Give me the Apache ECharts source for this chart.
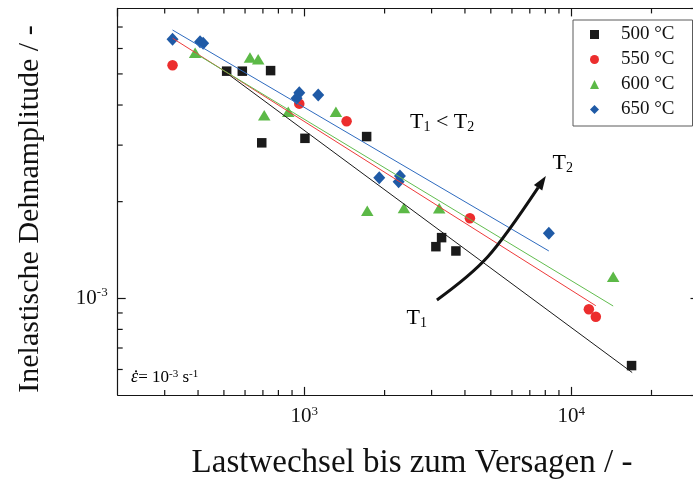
<!DOCTYPE html>
<html>
<head>
<meta charset="utf-8">
<script src="https://cdn.jsdelivr.net/npm/echarts@6/dist/echarts.min.js"></script>
<style>
html, body { margin: 0; padding: 0; background: #fff; }
#chart { width: 693px; height: 480px; }
</style>
</head>
<body>
<div id="chart"></div>
<script>
const FONT = '"Liberation Serif", "Times New Roman", Times, serif';

// Temperatures (legend entries)
const seriesNames = ['500 °C', '550 °C', '600 °C', '650 °C'];

// Cycles to failure N and inelastic strain amplitude for each temperature
const cycles500 = [512, 586, 748, 693, 1006, 1713, 3270, 3113, 3700, 16840];
const strain500 = [5.10e-3, 5.10e-3, 5.12e-3, 3.05e-3, 3.15e-3, 3.19e-3, 1.545e-3, 1.448e-3, 1.404e-3, 6.17e-4];

const cycles550 = [321, 958, 1441, 4175, 11650, 12370];
const strain550 = [5.32e-3, 4.04e-3, 3.56e-3, 1.775e-3, 9.24e-4, 8.76e-4];

const cycles600 = [390, 626, 672, 708, 871, 1314, 1722, 2363, 3203, 14370];
const strain600 = [5.82e-3, 5.63e-3, 5.55e-3, 3.72e-3, 3.81e-3, 3.81e-3, 1.875e-3, 1.911e-3, 1.907e-3, 1.168e-3];

const cycles650 = [321, 407, 418, 958, 936, 1128, 1910, 2283, 2257, 8250];
const strain650 = [6.41e-3, 6.30e-3, 6.23e-3, 4.37e-3, 4.20e-3, 4.30e-3, 2.375e-3, 2.404e-3, 2.307e-3, 1.594e-3];

// Power-law fit lines (start and end point, in N / strain)
const fit500 = [[512, 5.03e-3], [16930, 5.87e-4]];
const fit550 = [[321, 6.46e-3], [12370, 9.48e-4]];
const fit600 = [[390, 5.80e-3], [14370, 9.46e-4]];
const fit650 = [[321, 6.85e-3], [8250, 1.404e-3]];

// Axis ranges and minor ticks
const X_MIN = 200, X_MAX = 30000;
const Y_MIN = 5e-4, Y_MAX = 8e-3;
const minorTicksX = [300, 400, 500, 600, 700, 800, 900, 2000, 3000, 4000, 5000, 6000, 7000, 8000, 9000, 20000];
const minorTicksY = [6e-4, 7e-4, 8e-4, 9e-4, 2e-3, 3e-3, 4e-3, 5e-3, 6e-3, 7e-3];

const colors = ['#1a1a1a', '#ec2d2d', '#5cb947', '#1f5aa6'];
const lineColors = ['#1a1a1a', '#ee3a3a', '#62bd4f', '#2e6bbf'];
const symbols = ['rect', 'circle', 'triangle', 'diamond'];
const symbolSizes = [9.5, 10.5, [12.5, 10.5], [12, 13]];

const AXIS_COLOR = '#151515';
const AXIS_W = 1.2;

const zip = (xs, ys) => xs.map((x, i) => [x, ys[i]]);
const dataSets = [zip(cycles500, strain500), zip(cycles550, strain550), zip(cycles600, strain600), zip(cycles650, strain650)];
const fits = [fit500, fit550, fit600, fit650];

const powerRich = {
  b: { fontFamily: FONT, fontSize: 21, lineHeight: 24, color: '#111' },
  s: { fontFamily: FONT, fontSize: 13, lineHeight: 8, color: '#111', verticalAlign: 'top' }
};
function powerLabel(v) {
  const lg = Math.log10(v);
  const e = Math.round(lg);
  if (Math.abs(lg - e) > 1e-6) return '';
  return '{b|10}{s|' + e + '}';
}

function axisCommon(extra) {
  return Object.assign({
    type: 'log',
    logBase: 10,
    axisLine: { show: true, onZero: false, lineStyle: { color: AXIS_COLOR, width: AXIS_W } },
    axisTick: { show: true, inside: true, length: 8, lineStyle: { color: AXIS_COLOR, width: AXIS_W } },
    splitLine: { show: false },
    minorTick: { show: false },
    minorSplitLine: { show: false }
  }, extra);
}

const chart = echarts.init(document.getElementById('chart'), null, { renderer: 'canvas' });

const scatterSeries = seriesNames.map((name, i) => ({
  name: name,
  type: 'scatter',
  xAxisIndex: 0,
  yAxisIndex: 0,
  symbol: symbols[i],
  symbolSize: symbolSizes[i],
  itemStyle: { color: colors[i], opacity: 1 },
  data: dataSets[i],
  z: 3
}));

const fitSeries = seriesNames.map((name, i) => ({
  name: 'Fit ' + name,
  type: 'line',
  xAxisIndex: 0,
  yAxisIndex: 0,
  data: fits[i],
  symbol: 'none',
  lineStyle: { color: lineColors[i], width: 1 },
  silent: true,
  z: 4
}));

const tickStyle = { stroke: AXIS_COLOR, lineWidth: AXIS_W };

// Minor ticks on the bottom/top frame edges
const minorX = {
  type: 'custom',
  silent: true,
  xAxisIndex: 0,
  yAxisIndex: 0,
  data: minorTicksX.map(v => [v, Y_MIN]),
  renderItem: function (params, api) {
    const v = api.value(0);
    const b = api.coord([v, Y_MIN]);
    const t = api.coord([v, Y_MAX]);
    return {
      type: 'group',
      children: [
        { type: 'line', shape: { x1: b[0], y1: b[1], x2: b[0], y2: b[1] - 5 }, style: tickStyle },
        { type: 'line', shape: { x1: t[0], y1: t[1], x2: t[0], y2: t[1] + 5 }, style: tickStyle }
      ]
    };
  },
  z: 5
};

// Minor ticks on the left/right frame edges
const minorY = {
  type: 'custom',
  silent: true,
  xAxisIndex: 0,
  yAxisIndex: 0,
  data: minorTicksY.map(v => [X_MIN, v]),
  renderItem: function (params, api) {
    const v = api.value(1);
    const l = api.coord([X_MIN, v]);
    const r = api.coord([X_MAX, v]);
    return {
      type: 'group',
      children: [
        { type: 'line', shape: { x1: l[0], y1: l[1], x2: l[0] + 5, y2: l[1] }, style: tickStyle },
        { type: 'line', shape: { x1: r[0], y1: r[1], x2: r[0] - 5, y2: r[1] }, style: tickStyle }
      ]
    };
  },
  z: 5
};

chart.setOption({
  animation: false,
  backgroundColor: '#ffffff',
  grid: { left: 117.7, right: -5.5, top: 8.4, bottom: 85.1, containLabel: false, outerBoundsMode: 'none' },
  xAxis: [
    axisCommon({
      position: 'bottom', min: X_MIN, max: X_MAX,
      axisLabel: { show: true, margin: 10, formatter: powerLabel, rich: powerRich, showMinLabel: false, showMaxLabel: false }
    }),
    axisCommon({ position: 'top', min: X_MIN, max: X_MAX, axisLabel: { show: false } })
  ],
  yAxis: [
    axisCommon({
      position: 'left', min: Y_MIN, max: Y_MAX,
      axisLabel: { show: true, margin: 10, formatter: powerLabel, rich: powerRich, showMinLabel: false, showMaxLabel: false }
    }),
    axisCommon({ position: 'right', min: Y_MIN, max: Y_MAX, axisLabel: { show: false } })
  ],
  legend: {
    orient: 'vertical',
    left: 573,
    top: 20,
    padding: [5, 18, 7, 17],
    itemWidth: 9,
    itemHeight: 9,
    itemGap: 6,
    borderColor: '#5a5a5a',
    borderWidth: 1,
    selectedMode: false,
    textStyle: { fontFamily: FONT, fontSize: 19, color: '#111', lineHeight: 18, padding: [0, 0, 0, 17] },
    data: seriesNames
  },
  series: scatterSeries.concat(fitSeries, [minorX, minorY])
});

// Annotation anchors, in (N, strain) data space
const arrowPath = { start: [3141, 9.88e-4], bend: [4876, 1.288e-3], tip: [8039, 2.404e-3] };
const labelT1T2 = [2489, 3.54e-3];
const labelT2 = [8517, 2.634e-3];
const labelT1 = [2418, 8.64e-4];
const labelRate = [224.4, 5.67e-4];

const px = p => chart.convertToPixel({ xAxisIndex: 0, yAxisIndex: 0 }, p);

const annRich = {
  m: { fontFamily: FONT, fontSize: 22, lineHeight: 24, color: '#111' },
  sub: { fontFamily: FONT, fontSize: 14, lineHeight: 3, color: '#111', verticalAlign: 'bottom' }
};
const rateRich = {
  m: { fontFamily: FONT, fontSize: 17, lineHeight: 18, color: '#111' },
  e: { fontFamily: FONT, fontSize: 18, lineHeight: 18, color: '#111', fontStyle: 'italic' },
  sup: { fontFamily: FONT, fontSize: 11, lineHeight: 6, color: '#111', verticalAlign: 'top' }
};

const p0 = px(arrowPath.start), pb = px(arrowPath.bend), pt = px(arrowPath.tip);
// arrow head oriented along the final segment
const dx = pt[0] - pb[0], dy = pt[1] - pb[1];
const len = Math.sqrt(dx * dx + dy * dy);
const ux = dx / len, uy = dy / len;
const headL = 14, headW = 5;
const base = [pt[0] - ux * headL, pt[1] - uy * headL];
const c1 = [p0[0] + (pb[0] - p0[0]) * 0.9, p0[1] + (pb[1] - p0[1]) * 0.9];
const c2 = [pb[0] + (base[0] - pb[0]) * 0.1, pb[1] + (base[1] - pb[1]) * 0.1];

const tT12 = px(labelT1T2), tT2 = px(labelT2), tT1 = px(labelT1), tRate = px(labelRate);

chart.setOption({
  graphic: [
    {
      type: 'bezierCurve', silent: true, z: 10,
      shape: { x1: p0[0], y1: p0[1], cpx1: c1[0], cpy1: c1[1], cpx2: c2[0], cpy2: c2[1], x2: base[0], y2: base[1] },
      style: { stroke: '#111', lineWidth: 3, fill: null }
    },
    {
      type: 'polygon', silent: true, z: 10,
      shape: { points: [
        [pt[0], pt[1]],
        [base[0] - uy * headW, base[1] + ux * headW],
        [base[0] + uy * headW, base[1] - ux * headW]
      ] },
      style: { fill: '#111' }
    },
    {
      type: 'text', silent: true, z: 10, x: tT12[0], y: tT12[1],
      style: { text: '{m|T}{sub|1}{m| < T}{sub|2}', rich: annRich, align: 'left', verticalAlign: 'middle' }
    },
    {
      type: 'text', silent: true, z: 10, x: tT2[0], y: tT2[1],
      style: { text: '{m|T}{sub|2}', rich: annRich, align: 'left', verticalAlign: 'middle' }
    },
    {
      type: 'text', silent: true, z: 10, x: tT1[0], y: tT1[1],
      style: { text: '{m|T}{sub|1}', rich: annRich, align: 'left', verticalAlign: 'middle' }
    },
    {
      // strain rate note: italic epsilon with an overdot
      type: 'text', silent: true, z: 10, x: tRate[0], y: tRate[1],
      style: { text: '{e|\u03b5}{m|= 10}{sup|-3}{m| s}{sup|-1}', rich: rateRich, align: 'left', verticalAlign: 'middle' }
    },
    {
      type: 'circle', silent: true, z: 10,
      shape: { cx: tRate[0] + 5, cy: tRate[1] - 6, r: 1.1 },
      style: { fill: '#111' }
    },
    {
      type: 'text', silent: true, z: 10, x: 412, y: 463,
      style: { text: 'Lastwechsel bis zum Versagen / -', fontFamily: FONT, fontSize: 33, fill: '#111', align: 'center', verticalAlign: 'middle' }
    },
    {
      type: 'text', silent: true, z: 10, x: 30, y: 209, rotation: Math.PI / 2,
      style: { text: 'Inelastische Dehnamplitude / -', fontFamily: FONT, fontSize: 30, fill: '#111', align: 'center', verticalAlign: 'middle' }
    }
  ]
});
</script>
</body>
</html>
